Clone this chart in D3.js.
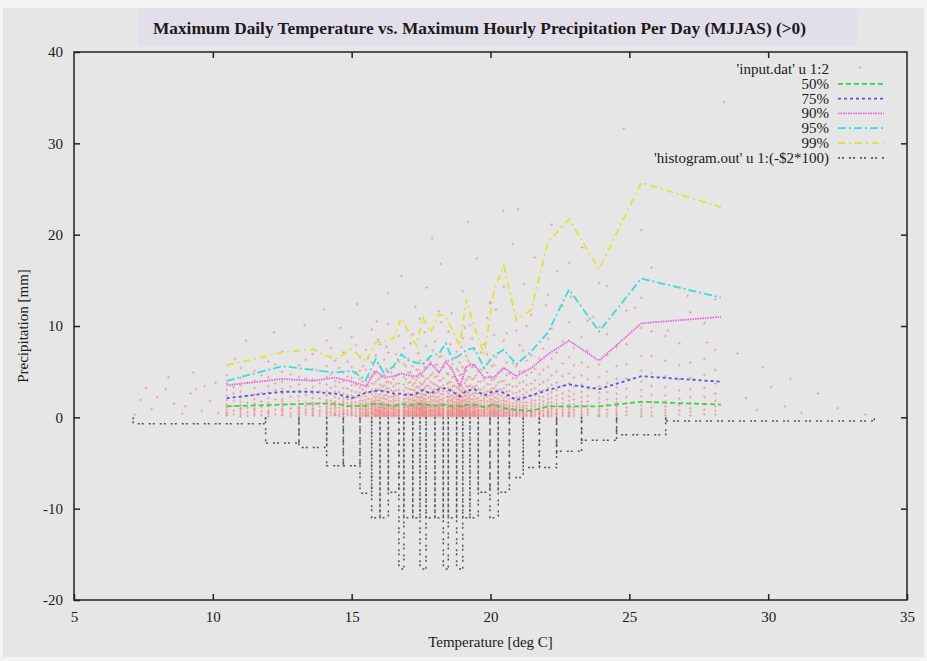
<!DOCTYPE html>
<html>
<head>
<meta charset="utf-8">
<script src="https://cdn.jsdelivr.net/npm/d3@7"></script>
<style>
body { margin: 0; background: #f4f4f4; }
svg { display: block; }
text { font-family: "Liberation Serif", "DejaVu Serif", serif; fill: #1a1a1a; }
</style>
</head>
<body>
<div id="chart"></div>
<script>
// percentile curves (x = temperature bin, y = precipitation mm)
var pctTemps = [10.5, 12.5, 13.6, 14.4, 15.0, 15.51, 15.87, 16.17, 16.51, 16.79, 17.04, 17.33, 17.57, 17.84, 18.15,
  18.39, 18.63, 18.89, 19.13, 19.41, 19.77, 20.13, 20.48, 20.93, 21.47, 22.07, 22.83, 23.91, 25.43, 28.3];
var p50 = [1.2, 1.4, 1.5, 1.5, 1.2, 1.3, 1.5, 1.4, 1.2, 1.5, 1.3, 1.4, 1.5, 1.3, 1.3,
  1.4, 1.2, 1.2, 1.4, 1.4, 1.1, 1.4, 1.0, 0.8, 0.7, 1.2, 1.2, 1.2, 1.7, 1.4];
var p75 = [2.1, 2.8, 2.8, 2.6, 2.1, 2.7, 2.9, 2.9, 2.6, 2.6, 2.4, 2.6, 3.0, 2.6, 3.1,
  3.2, 2.8, 2.3, 2.9, 3.1, 2.4, 2.9, 2.7, 1.9, 2.4, 3.0, 3.6, 3.1, 4.5, 3.9];
var p90 = [3.5, 4.2, 4.0, 4.35, 3.9, 3.4, 5.1, 4.35, 4.5, 4.8, 4.6, 4.5, 5.0, 5.9, 4.9,
  6.1, 5.2, 3.3, 5.6, 5.8, 4.35, 4.4, 5.4, 4.5, 5.4, 6.9, 8.4, 6.2, 10.3, 11.0];
var p95 = [4.0, 5.6, 5.2, 4.9, 5.1, 4.1, 6.4, 4.8, 5.6, 6.9, 6.2, 6.0, 5.8, 6.7, 7.0,
  8.1, 6.3, 6.8, 7.4, 7.6, 5.4, 6.8, 7.4, 5.8, 7.2, 9.3, 14.0, 9.4, 15.2, 13.1];
var p99 = [5.7, 7.1, 7.45, 6.35, 7.5, 6.1, 8.2, 8.3, 8.7, 10.9, 9.3, 7.9, 10.9, 9.3, 11.3,
  11.0, 9.5, 7.8, 12.9, 10.0, 6.9, 14.0, 16.6, 10.6, 11.8, 19.2, 21.7, 16.2, 25.7, 23.0];

// histogram.out u 1:(-$2*100): bin edges and plotted values
var histEdges = [7.13, 11.9, 13.1, 14.1, 14.7, 15.3, 15.72, 16.02, 16.32, 16.7, 16.88, 17.2, 17.46, 17.68, 18.0, 18.3,
  18.48, 18.78, 19.0, 19.26, 19.56, 19.98, 20.28, 20.68, 21.18, 21.76, 22.38, 23.28, 24.54, 26.31, 33.82];
var histValues = [-0.7, -2.8, -3.3, -5.3, -5.3, -8.3, -11, -11, -8.2, -16.6, -11, -11, -16.6, -11, -11,
  -16.6, -11, -16.6, -11, -11, -8.2, -11, -8.2, -6.6, -5.5, -5.5, -3.7, -2.5, -1.9, -0.4];

// input.dat u 1:2 (scatter), grouped by recorded temperature
var inputCols = [10.5, 11.0, 11.5, 12.0, 12.5, 13.1, 13.6, 14.1, 14.4, 14.7, 15.0, 15.3, 15.51, 15.72, 15.87, 16.02, 16.17,
  16.32, 16.51, 16.7, 16.88, 17.04, 17.2, 17.33, 17.46, 17.57, 17.68, 17.84, 18.0, 18.15, 18.3, 18.48, 18.63, 18.78,
  18.89, 19.0, 19.13, 19.26, 19.41, 19.56, 19.77, 19.98, 20.13, 20.28, 20.48, 20.68, 20.93, 21.18, 21.47, 21.76,
  22.07, 22.38, 22.83, 23.28, 23.91, 24.54, 25.43, 26.3, 27.2, 28.1];
var inputPrec = [
  [0.2, 0.5, 0.8, 1.1, 1.4, 1.9, 2.4, 3.0, 3.7, 0.4, 4.6],
  [0.3, 0.6, 0.9, 1.3, 1.7, 2.2, 2.8, 3.5, 0.1, 1.0, 4.3, 5.4],
  [0.2, 0.4, 0.7, 1.0, 1.5, 2.0, 2.5, 3.2, 4.0, 0.9, 5.1],
  [0.1, 0.4, 0.7, 1.2, 1.6, 2.1, 2.7, 3.4, 0.5, 1.3, 4.4, 6.1],
  [0.2, 0.3, 0.6, 0.9, 1.2, 1.5, 2.0, 2.6, 3.1, 3.9, 0.8, 1.8, 5.0, 7.2],
  [0.1, 0.4, 0.6, 0.8, 1.1, 1.4, 1.8, 2.3, 2.9, 3.6, 0.3, 1.0, 4.4, 5.7],
  [0.2, 0.3, 0.5, 0.7, 1.0, 1.3, 1.6, 2.1, 2.6, 3.3, 4.1, 0.9, 1.5, 5.3, 6.9],
  [0.1, 0.3, 0.5, 0.8, 1.0, 1.2, 1.5, 1.9, 2.4, 2.9, 3.6, 0.6, 1.7, 4.4, 5.6, 8.4],
  [0.2, 0.4, 0.6, 0.9, 1.1, 1.4, 1.7, 2.2, 2.8, 3.4, 0.3, 1.3, 4.0, 6.2],
  [0.1, 0.3, 0.5, 0.7, 0.9, 1.2, 1.4, 1.8, 2.1, 2.6, 3.2, 4.0, 0.4, 1.6, 4.9, 7.1],
  [0.2, 0.3, 0.5, 0.8, 1.0, 1.3, 1.5, 1.7, 2.0, 2.4, 2.9, 3.5, 0.6, 1.1, 4.3, 5.5, 8.8],
  [0.1, 0.2, 0.4, 0.6, 0.8, 1.0, 1.2, 1.5, 1.8, 2.2, 2.7, 3.3, 4.2, 0.5, 0.9, 1.4, 5.1, 6.6],
  [0.1, 0.2, 0.3, 0.5, 0.7, 0.9, 1.1, 1.3, 1.6, 1.9, 2.3, 2.8, 3.4, 0.4, 0.8, 1.2, 4.0, 5.2, 7.4],
  [0.1, 0.3, 0.4, 0.6, 0.8, 1.0, 1.2, 1.4, 1.7, 2.0, 2.5, 3.0, 3.7, 0.5, 0.9, 1.5, 4.5, 6.0, 9.6],
  [0.1, 0.2, 0.4, 0.5, 0.7, 0.9, 1.1, 1.4, 1.6, 1.9, 2.2, 2.6, 3.1, 3.9, 0.3, 0.8, 1.3, 4.8, 6.8],
  [0.1, 0.2, 0.3, 0.5, 0.6, 0.8, 1.0, 1.2, 1.5, 1.8, 2.1, 2.5, 3.0, 3.6, 0.4, 0.7, 1.1, 4.3, 5.6, 8.0],
  [0.1, 0.3, 0.4, 0.6, 0.8, 0.9, 1.1, 1.3, 1.6, 2.0, 2.4, 2.9, 3.5, 0.2, 0.5, 1.0, 1.4, 4.6, 6.3],
  [0.1, 0.2, 0.4, 0.5, 0.7, 0.8, 1.0, 1.3, 1.5, 1.8, 2.2, 2.7, 3.2, 3.9, 0.3, 0.6, 1.2, 5.0, 7.1, 10.2],
  [0.1, 0.2, 0.3, 0.4, 0.6, 0.8, 1.0, 1.1, 1.4, 1.7, 2.0, 2.3, 2.8, 3.4, 0.5, 0.9, 1.2, 4.2, 5.5],
  [0.1, 0.2, 0.3, 0.5, 0.6, 0.7, 0.9, 1.1, 1.3, 1.5, 1.8, 2.1, 2.5, 3.0, 3.7, 0.4, 0.8, 1.2, 4.7, 6.1, 8.9],
  [0.1, 0.2, 0.4, 0.5, 0.7, 0.8, 1.0, 1.2, 1.4, 1.7, 2.0, 2.4, 2.9, 3.6, 0.3, 0.6, 1.1, 4.4, 5.8, 7.6],
  [0.1, 0.2, 0.3, 0.4, 0.6, 0.7, 0.9, 1.1, 1.3, 1.6, 1.9, 2.2, 2.6, 3.1, 3.8, 0.5, 0.8, 1.2, 4.9, 6.4],
  [0.1, 0.2, 0.3, 0.5, 0.6, 0.8, 1.0, 1.2, 1.5, 1.8, 2.1, 2.5, 3.0, 3.5, 0.4, 0.7, 1.1, 4.3, 5.6, 9.1],
  [0.1, 0.2, 0.4, 0.5, 0.7, 0.9, 1.0, 1.2, 1.4, 1.6, 1.9, 2.3, 2.7, 3.3, 0.3, 0.6, 1.1, 4.1, 5.2],
  [0.1, 0.2, 0.3, 0.4, 0.5, 0.7, 0.8, 1.0, 1.1, 1.3, 1.6, 1.9, 2.2, 2.6, 3.1, 3.8, 0.6, 0.9, 1.4, 4.8, 6.2, 10.8],
  [0.1, 0.2, 0.3, 0.5, 0.6, 0.8, 0.9, 1.1, 1.3, 1.5, 1.8, 2.1, 2.5, 3.0, 3.7, 0.4, 0.7, 1.2, 4.5, 5.9],
  [0.1, 0.2, 0.4, 0.5, 0.7, 0.8, 1.0, 1.2, 1.4, 1.7, 2.0, 2.4, 2.8, 3.4, 0.3, 0.6, 1.1, 4.2, 5.4, 7.8],
  [0.1, 0.2, 0.3, 0.4, 0.6, 0.7, 0.9, 1.1, 1.2, 1.4, 1.7, 2.0, 2.3, 2.7, 3.2, 3.9, 0.5, 0.8, 1.3, 4.6, 6.0],
  [0.1, 0.2, 0.3, 0.5, 0.6, 0.8, 0.9, 1.1, 1.3, 1.6, 1.9, 2.2, 2.6, 3.1, 3.6, 0.4, 0.7, 1.2, 4.4, 5.7, 8.3],
  [0.1, 0.2, 0.4, 0.5, 0.7, 0.8, 1.0, 1.2, 1.4, 1.6, 1.9, 2.3, 2.8, 3.3, 4.0, 0.3, 0.6, 1.1, 5.0, 6.6, 11.6],
  [0.1, 0.2, 0.3, 0.4, 0.6, 0.7, 0.9, 1.0, 1.2, 1.5, 1.8, 2.1, 2.5, 2.9, 3.5, 0.5, 0.8, 1.3, 4.3, 5.5],
  [0.1, 0.2, 0.3, 0.5, 0.6, 0.8, 1.0, 1.1, 1.3, 1.6, 1.9, 2.2, 2.6, 3.2, 3.8, 0.4, 0.7, 1.2, 4.7, 6.2, 9.4],
  [0.1, 0.2, 0.4, 0.5, 0.7, 0.8, 1.0, 1.2, 1.4, 1.7, 2.0, 2.4, 2.9, 3.4, 0.3, 0.6, 1.1, 4.4, 5.8],
  [0.1, 0.2, 0.3, 0.4, 0.5, 0.7, 0.8, 1.0, 1.2, 1.4, 1.7, 2.0, 2.3, 2.7, 3.3, 0.6, 0.9, 1.3, 4.1, 5.3, 7.2],
  [0.1, 0.2, 0.3, 0.5, 0.6, 0.8, 0.9, 1.1, 1.3, 1.5, 1.8, 2.1, 2.5, 3.0, 3.6, 0.4, 0.7, 1.2, 4.6, 6.0],
  [0.1, 0.2, 0.4, 0.5, 0.7, 0.8, 1.0, 1.1, 1.3, 1.6, 1.9, 2.2, 2.7, 3.2, 0.3, 0.6, 1.2, 4.2, 5.5, 8.7],
  [0.1, 0.2, 0.3, 0.4, 0.6, 0.7, 0.9, 1.0, 1.2, 1.4, 1.7, 2.0, 2.4, 2.8, 3.4, 4.1, 0.5, 0.8, 1.3, 5.1, 6.7],
  [0.1, 0.2, 0.3, 0.5, 0.6, 0.8, 1.0, 1.2, 1.4, 1.7, 2.0, 2.4, 2.9, 3.5, 0.4, 0.7, 1.1, 4.4, 5.9, 10.1],
  [0.1, 0.2, 0.4, 0.5, 0.7, 0.8, 1.0, 1.1, 1.3, 1.6, 1.9, 2.3, 2.7, 3.3, 0.3, 0.6, 1.2, 4.3, 5.6, 7.4],
  [0.1, 0.2, 0.3, 0.4, 0.6, 0.7, 0.9, 1.1, 1.3, 1.5, 1.8, 2.1, 2.6, 3.1, 0.5, 0.8, 1.2, 3.9, 5.0],
  [0.1, 0.2, 0.3, 0.5, 0.6, 0.8, 0.9, 1.1, 1.3, 1.6, 1.9, 2.2, 2.7, 3.3, 0.4, 0.7, 1.2, 4.1, 5.4, 8.0],
  [0.1, 0.2, 0.4, 0.5, 0.7, 0.8, 1.0, 1.2, 1.4, 1.7, 2.0, 2.4, 2.9, 3.6, 0.3, 0.6, 1.1, 4.5, 6.3, 12.5],
  [0.1, 0.2, 0.3, 0.4, 0.6, 0.7, 0.9, 1.1, 1.3, 1.5, 1.8, 2.2, 2.6, 3.2, 0.5, 0.8, 1.3, 4.2, 5.7, 9.0],
  [0.1, 0.2, 0.3, 0.5, 0.6, 0.8, 1.0, 1.2, 1.4, 1.7, 2.0, 2.5, 3.0, 0.4, 0.7, 1.1, 3.8, 4.9, 7.0],
  [0.1, 0.2, 0.4, 0.5, 0.7, 0.9, 1.0, 1.2, 1.5, 1.8, 2.1, 2.6, 3.2, 0.3, 0.6, 1.3, 4.0, 5.4, 8.4, 14.3],
  [0.1, 0.2, 0.3, 0.4, 0.6, 0.7, 0.9, 1.1, 1.3, 1.6, 2.0, 2.4, 2.9, 0.5, 0.8, 3.6, 4.8],
  [0.1, 0.2, 0.3, 0.5, 0.6, 0.8, 1.0, 1.2, 1.5, 1.8, 2.2, 2.7, 3.4, 0.4, 0.7, 4.3, 5.6, 9.5],
  [0.1, 0.2, 0.4, 0.5, 0.7, 0.9, 1.1, 1.3, 1.6, 2.0, 2.5, 3.1, 0.3, 0.6, 3.9, 5.1, 7.3],
  [0.1, 0.2, 0.3, 0.5, 0.6, 0.8, 1.0, 1.3, 1.6, 1.9, 2.4, 3.0, 0.4, 0.7, 3.7, 4.9, 6.8, 11.2],
  [0.1, 0.3, 0.4, 0.6, 0.8, 1.0, 1.2, 1.5, 1.9, 2.3, 2.9, 0.5, 3.6, 4.7, 6.4],
  [0.1, 0.2, 0.4, 0.6, 0.8, 1.0, 1.3, 1.6, 2.0, 2.5, 3.2, 0.5, 4.1, 5.5, 8.6, 13.4],
  [0.1, 0.3, 0.5, 0.7, 0.9, 1.2, 1.5, 1.9, 2.4, 3.0, 0.4, 3.8, 5.0, 7.1],
  [0.1, 0.2, 0.4, 0.6, 0.9, 1.1, 1.4, 1.8, 2.3, 2.9, 3.7, 0.5, 4.8, 6.6, 10.4, 16.9],
  [0.1, 0.3, 0.5, 0.7, 1.0, 1.3, 1.7, 2.2, 2.8, 3.6, 4.6, 6.0, 8.8],
  [0.1, 0.2, 0.4, 0.7, 0.9, 1.2, 1.6, 2.1, 2.7, 3.4, 4.4, 5.8, 9.9, 14.7],
  [0.2, 0.4, 0.6, 0.9, 1.2, 1.6, 2.0, 2.6, 3.3, 4.2, 5.6, 7.7],
  [0.1, 0.3, 0.6, 0.9, 1.3, 1.7, 2.3, 3.0, 3.9, 5.1, 6.7, 9.8, 13.1, 20.5],
  [0.2, 0.5, 0.8, 1.2, 1.7, 2.4, 3.3, 4.5, 6.2, 8.9],
  [0.2, 0.6, 1.0, 1.5, 2.2, 3.1, 4.3, 6.0, 11.5],
  [0.3, 0.7, 1.2, 1.8, 2.6, 3.7, 5.2, 7.4, 12.9]
];
// second group of recorded temperatures, between the first ones
var inputCols2 = [10.75, 11.25, 11.75, 12.25, 12.8, 13.35, 13.85, 14.25, 14.55, 14.85, 15.15, 15.4, 15.6, 15.8, 15.95,
  16.1, 16.25, 16.42, 16.6, 16.95, 17.12, 17.27, 17.4, 17.52, 17.63, 17.76, 17.92, 18.08, 18.22, 18.44, 18.56, 18.7,
  18.84, 18.95, 19.07, 19.2, 19.34, 19.48, 19.66, 19.88, 20.05, 20.2, 20.38, 20.58, 20.8, 21.05, 21.3, 21.6, 21.9,
  22.2, 22.6, 23.0, 23.5, 24.2, 24.9, 25.8, 26.8, 27.7];
var inputPrec2 = [
  [0.35, 0.75, 1.25, 1.8, 2.6, 3.3],
  [0.15, 0.55, 1.05, 1.6, 2.35, 3.8],
  [0.25, 0.65, 1.15, 1.75, 2.7, 4.6],
  [0.35, 0.85, 1.35, 1.95, 2.95, 3.7, 5.8],
  [0.15, 0.45, 0.95, 1.45, 2.25, 3.35, 4.7],
  [0.25, 0.55, 0.85, 1.25, 1.65, 2.45, 3.15, 4.25, 6.3],
  [0.15, 0.45, 0.75, 1.15, 1.55, 2.05, 2.85, 3.75, 5.1],
  [0.25, 0.55, 0.95, 1.35, 1.85, 2.55, 3.25, 4.75, 7.6],
  [0.15, 0.35, 0.65, 1.05, 1.45, 2.05, 2.75, 3.85, 5.4],
  [0.25, 0.45, 0.75, 1.15, 1.55, 1.95, 2.45, 3.15, 4.45, 6.1],
  [0.15, 0.35, 0.65, 0.95, 1.25, 1.65, 2.15, 2.75, 3.55, 4.9, 7.9],
  [0.15, 0.35, 0.55, 0.85, 1.15, 1.45, 1.85, 2.45, 3.05, 3.95, 5.6],
  [0.15, 0.25, 0.45, 0.65, 0.95, 1.25, 1.55, 2.05, 2.65, 3.45, 4.4, 6.5],
  [0.15, 0.35, 0.55, 0.75, 1.05, 1.35, 1.75, 2.25, 2.85, 3.65, 5.0],
  [0.15, 0.25, 0.45, 0.65, 0.85, 1.15, 1.45, 1.85, 2.35, 3.05, 4.15, 5.9, 8.5],
  [0.15, 0.35, 0.55, 0.75, 1.05, 1.25, 1.65, 2.15, 2.75, 3.35, 4.5],
  [0.15, 0.25, 0.45, 0.65, 0.95, 1.15, 1.45, 1.95, 2.45, 3.15, 3.85, 5.3, 7.7],
  [0.15, 0.35, 0.55, 0.85, 1.05, 1.35, 1.75, 2.25, 2.95, 3.75, 4.9],
  [0.15, 0.25, 0.45, 0.65, 0.85, 1.15, 1.45, 1.85, 2.35, 2.95, 3.65, 4.55, 6.9],
  [0.15, 0.35, 0.55, 0.75, 1.05, 1.35, 1.65, 2.05, 2.55, 3.25, 4.15, 5.6],
  [0.15, 0.25, 0.45, 0.65, 0.95, 1.25, 1.55, 1.95, 2.45, 3.05, 3.85, 4.95, 8.1],
  [0.15, 0.35, 0.55, 0.85, 1.15, 1.45, 1.85, 2.35, 2.95, 3.75, 6.0],
  [0.15, 0.25, 0.45, 0.75, 0.95, 1.25, 1.65, 2.15, 2.65, 3.35, 4.35, 5.2, 7.0],
  [0.15, 0.35, 0.55, 0.85, 1.05, 1.35, 1.75, 2.25, 2.85, 3.55, 4.6],
  [0.15, 0.25, 0.45, 0.65, 0.95, 1.15, 1.55, 1.95, 2.45, 3.15, 3.95, 5.5, 9.3],
  [0.15, 0.35, 0.55, 0.75, 1.05, 1.35, 1.65, 2.15, 2.65, 3.45, 4.3, 6.3],
  [0.15, 0.25, 0.45, 0.65, 0.85, 1.15, 1.45, 1.85, 2.35, 2.95, 3.75, 4.85, 7.3],
  [0.15, 0.35, 0.55, 0.85, 1.05, 1.35, 1.75, 2.15, 2.75, 3.45, 4.5, 5.8],
  [0.15, 0.25, 0.45, 0.65, 0.95, 1.25, 1.55, 1.95, 2.55, 3.25, 4.05, 6.7, 10.4],
  [0.15, 0.35, 0.55, 0.75, 1.05, 1.35, 1.75, 2.25, 2.85, 3.65, 4.8],
  [0.15, 0.25, 0.45, 0.65, 0.85, 1.15, 1.45, 1.85, 2.35, 3.05, 3.85, 5.4, 8.0],
  [0.15, 0.35, 0.55, 0.85, 1.05, 1.35, 1.65, 2.15, 2.75, 3.45, 4.5, 6.5],
  [0.15, 0.25, 0.45, 0.65, 0.95, 1.25, 1.55, 1.95, 2.45, 3.15, 4.0, 5.1],
  [0.15, 0.35, 0.55, 0.75, 1.05, 1.35, 1.75, 2.25, 2.85, 3.55, 4.7, 7.7],
  [0.15, 0.25, 0.45, 0.65, 0.85, 1.15, 1.45, 1.85, 2.35, 2.95, 3.75, 5.3, 9.8],
  [0.15, 0.35, 0.55, 0.85, 1.05, 1.35, 1.75, 2.15, 2.65, 3.35, 4.4, 6.2],
  [0.15, 0.25, 0.45, 0.65, 0.95, 1.25, 1.55, 1.95, 2.55, 3.25, 4.15, 5.5, 8.6],
  [0.15, 0.35, 0.55, 0.75, 1.05, 1.35, 1.65, 2.05, 2.65, 3.45, 4.6],
  [0.15, 0.25, 0.45, 0.65, 0.85, 1.15, 1.45, 1.85, 2.35, 3.05, 3.9, 5.2, 7.1],
  [0.15, 0.35, 0.55, 0.85, 1.05, 1.35, 1.75, 2.25, 2.85, 3.65, 4.9, 6.9, 10.9],
  [0.15, 0.25, 0.45, 0.65, 0.95, 1.25, 1.55, 1.95, 2.45, 3.15, 4.1, 5.6],
  [0.15, 0.35, 0.55, 0.75, 1.05, 1.35, 1.65, 2.15, 2.75, 3.45, 4.5, 6.6, 11.8],
  [0.15, 0.25, 0.45, 0.65, 0.85, 1.15, 1.45, 1.85, 2.35, 3.05, 3.95, 5.1],
  [0.15, 0.35, 0.55, 0.85, 1.05, 1.35, 1.75, 2.25, 2.85, 3.55, 4.6, 6.0, 9.2],
  [0.15, 0.25, 0.45, 0.65, 0.95, 1.25, 1.55, 2.05, 2.65, 3.35, 4.3, 5.9],
  [0.15, 0.35, 0.55, 0.75, 1.05, 1.35, 1.75, 2.25, 2.85, 3.75, 5.0, 7.9],
  [0.15, 0.25, 0.45, 0.65, 0.95, 1.25, 1.65, 2.15, 2.75, 3.55, 4.6, 6.2, 10.0],
  [0.15, 0.35, 0.55, 0.85, 1.15, 1.45, 1.85, 2.45, 3.15, 4.05, 5.3],
  [0.15, 0.25, 0.45, 0.75, 1.05, 1.35, 1.75, 2.25, 2.95, 3.85, 5.2, 7.5],
  [0.15, 0.35, 0.65, 0.95, 1.25, 1.65, 2.15, 2.75, 3.55, 4.6, 6.4, 9.7],
  [0.15, 0.35, 0.55, 0.85, 1.15, 1.55, 2.05, 2.65, 3.45, 4.5, 5.9, 8.3, 12.2],
  [0.15, 0.45, 0.75, 1.05, 1.45, 1.95, 2.55, 3.35, 4.35, 5.7, 7.6],
  [0.25, 0.55, 0.85, 1.25, 1.75, 2.35, 3.15, 4.15, 5.5, 7.3, 10.6],
  [0.15, 0.45, 0.85, 1.35, 1.95, 2.75, 3.75, 5.0, 6.8, 9.1],
  [0.25, 0.65, 1.05, 1.55, 2.25, 3.15, 4.25, 5.8, 8.0, 11.7],
  [0.15, 0.55, 1.05, 1.65, 2.45, 3.45, 4.85, 6.7, 9.4],
  [0.25, 0.75, 1.35, 2.05, 2.95, 4.15, 5.7, 8.1],
  [0.35, 0.85, 1.45, 2.25, 3.25, 4.65, 6.4, 10.3]
];
// scattered points away from the main columns
var inputSparse = [[7.2, 0.3], [7.4, 1.9], [7.6, 3.2], [7.8, 0.9], [8.0, 2.2], [8.3, 3.1], [8.4, 4.4], [8.6, 1.5],
  [8.9, 0.4], [9.0, 1.2], [9.2, 2.6], [9.3, 4.9], [9.4, 3.1], [9.6, 0.7], [9.7, 3.4], [9.9, 1.8], [10.1, 3.8],
  [10.2, 0.5], [10.8, 6.4], [11.2, 8.4], [12.2, 9.3], [13.3, 10.1], [14.0, 11.8], [14.6, 9.8], [15.2, 12.4],
  [15.9, 10.5], [16.3, 13.6], [16.8, 15.5], [17.3, 12.1], [17.7, 14.2], [18.2, 16.8], [18.6, 11.4], [19.0, 13.8],
  [19.5, 17.4], [20.0, 12.6], [20.3, 15.2], [20.8, 19.0], [21.2, 14.6], [21.6, 17.5], [22.0, 12.3], [22.4, 16.0],
  [22.9, 13.2], [23.3, 18.6], [23.7, 11.0], [24.2, 14.4], [24.8, 31.6], [25.2, 12.0], [25.8, 16.4], [26.4, 9.5],
  [27.1, 13.3], [27.8, 8.2], [28.4, 34.5], [28.9, 7.0], [33.3, 38.3], [29.2, 2.1], [29.6, 0.8], [30.1, 3.3],
  [30.6, 1.2], [31.2, 0.5], [31.8, 2.6], [32.5, 1.0], [33.5, 0.3], [29.8, 5.5], [30.8, 4.2], [17.9, 19.6],
  [19.2, 21.4], [21.0, 22.8], [20.46, 22.6], [22.2, 21.1]];

var xTicks = [5, 10, 15, 20, 25, 30, 35];
var yTicks = [-20, -10, 0, 10, 20, 30, 40];
var legendLabels = ["'input.dat' u 1:2", "50%", "75%", "90%", "95%", "99%", "'histogram.out' u 1:(-$2*100)"];

var width = 927, height = 661;
var plotL = 74, plotR = 907, plotT = 52, plotB = 600;

var svg = d3.select("#chart").append("svg")
  .attr("width", width)
  .attr("height", height);

// page background + title box
svg.append("rect")
  .attr("x", 3).attr("y", 8)
  .attr("width", 921).attr("height", 649)
  .attr("fill", "#e6e6e6");

svg.append("rect")
  .attr("x", 138).attr("y", 9)
  .attr("width", 719).attr("height", 37)
  .attr("fill", "#e2deea");

svg.append("text")
  .attr("x", 153).attr("y", 34)
  .attr("font-size", 17)
  .attr("font-weight", "bold")
  .attr("textLength", 653)
  .attr("lengthAdjust", "spacingAndGlyphs")
  .text("Maximum Daily Temperature vs. Maximum Hourly Precipitation Per Day (MJJAS) (>0)");

var x = d3.scaleLinear().domain([5, 35]).range([plotL, plotR]);
var y = d3.scaleLinear().domain([-20, 40]).range([plotB, plotT]);

svg.append("clipPath").attr("id", "plotclip")
  .append("rect")
  .attr("x", plotL).attr("y", plotT)
  .attr("width", plotR - plotL).attr("height", plotB - plotT);

var plot = svg.append("g").attr("clip-path", "url(#plotclip)");

// scatter
var points = [];
inputCols.forEach(function (t, i) {
  inputPrec[i].forEach(function (p) { points.push([t, p]); });
});
inputCols2.forEach(function (t, i) {
  inputPrec2[i].forEach(function (p) { points.push([t, p]); });
});
inputSparse.forEach(function (d) { points.push(d); });

plot.append("g")
  .selectAll("path")
  .data(points)
  .enter().append("path")
  .attr("transform", function (d) { return "translate(" + x(d[0]) + "," + y(d[1]) + ")"; })
  .attr("d", "M-1.5,0H1.5M0,-1.5V1.5")
  .attr("stroke", "#f08080")
  .attr("stroke-opacity", 0.5)
  .attr("stroke-width", 1);

// percentile lines
var series = [
  { values: p50, color: "#3fd43f", dash: "5,3" },
  { values: p75, color: "#5353e6", dash: "3,3" },
  { values: p90, color: "#e463e4", dash: "1.5,1" },
  { values: p95, color: "#3fdada", dash: "8,3,2,3" },
  { values: p99, color: "#e2e23c", dash: "7,4,2,4" }
];

var line = d3.line()
  .x(function (d) { return x(d[0]); })
  .y(function (d) { return y(d[1]); });

series.forEach(function (s) {
  plot.append("path")
    .datum(pctTemps.map(function (t, i) { return [t, s.values[i]]; }))
    .attr("d", line)
    .attr("fill", "none")
    .attr("stroke", s.color)
    .attr("stroke-width", 1.8)
    .attr("stroke-dasharray", s.dash);
});

// histogram boxes (open at zero)
var histColor = "#555555", histDash = "2,2,2,5";
plot.append("g")
  .selectAll("path")
  .data(histValues)
  .enter().append("path")
  .attr("d", function (d, i) {
    var x0 = histEdges[i], x1 = histEdges[i + 1];
    return line([[x0, 0], [x0, d], [x1, d], [x1, 0]]);
  })
  .attr("fill", "none")
  .attr("stroke", histColor)
  .attr("stroke-width", 1.5)
  .attr("stroke-dasharray", histDash);

// axes, ticks on all four sides pointing inward
function plainNum(d) { return String(d); }

function styleAxis(g) {
  g.select(".domain").remove();
  g.selectAll(".tick line").attr("stroke", "#222").attr("stroke-width", 1.5);
  g.selectAll(".tick text")
    .attr("font-family", "'Liberation Serif', serif")
    .attr("font-size", 15)
    .attr("fill", "#1a1a1a");
}

svg.append("g")
  .attr("transform", "translate(0," + plotB + ")")
  .call(d3.axisBottom(x).tickValues(xTicks).tickFormat(plainNum).tickSizeInner(-6).tickSizeOuter(0).tickPadding(11))
  .call(styleAxis);

svg.append("g")
  .attr("transform", "translate(0," + plotT + ")")
  .call(d3.axisTop(x).tickValues(xTicks.slice(1, -1)).tickSizeInner(-6).tickSizeOuter(0).tickFormat(""))
  .call(styleAxis);

svg.append("g")
  .attr("transform", "translate(" + plotL + ",0)")
  .call(d3.axisLeft(y).tickValues(yTicks).tickFormat(plainNum).tickSizeInner(-6).tickSizeOuter(0).tickPadding(11))
  .call(styleAxis);

svg.append("g")
  .attr("transform", "translate(" + plotR + ",0)")
  .call(d3.axisRight(y).tickValues(yTicks.slice(1, -1)).tickSizeInner(-6).tickSizeOuter(0).tickFormat(""))
  .call(styleAxis);

svg.append("rect")
  .attr("x", plotL).attr("y", plotT)
  .attr("width", plotR - plotL).attr("height", plotB - plotT)
  .attr("fill", "none")
  .attr("stroke", "#222")
  .attr("stroke-width", 1.5);

// axis titles
svg.append("text")
  .attr("x", (plotL + plotR) / 2).attr("y", 647)
  .attr("text-anchor", "middle")
  .attr("font-size", 15)
  .text("Temperature [deg C]");

svg.append("text")
  .attr("transform", "translate(28,326) rotate(-90)")
  .attr("text-anchor", "middle")
  .attr("font-size", 15)
  .text("Precipitation [mm]");

// legend
var legendStyles = [null].concat(series, [{ color: histColor, dash: histDash }]);
var legend = svg.append("g");
legendLabels.forEach(function (label, i) {
  var ly = 69 + i * 14.8;
  legend.append("text")
    .attr("x", 829).attr("y", ly + 5)
    .attr("text-anchor", "end")
    .attr("font-size", 15)
    .text(label);
  var st = legendStyles[i];
  if (st) {
    legend.append("line")
      .attr("x1", 838).attr("x2", 884)
      .attr("y1", ly).attr("y2", ly)
      .attr("stroke", st.color)
      .attr("stroke-width", 1.8)
      .attr("stroke-dasharray", st.dash);
  }
});
</script>
</body>
</html>
